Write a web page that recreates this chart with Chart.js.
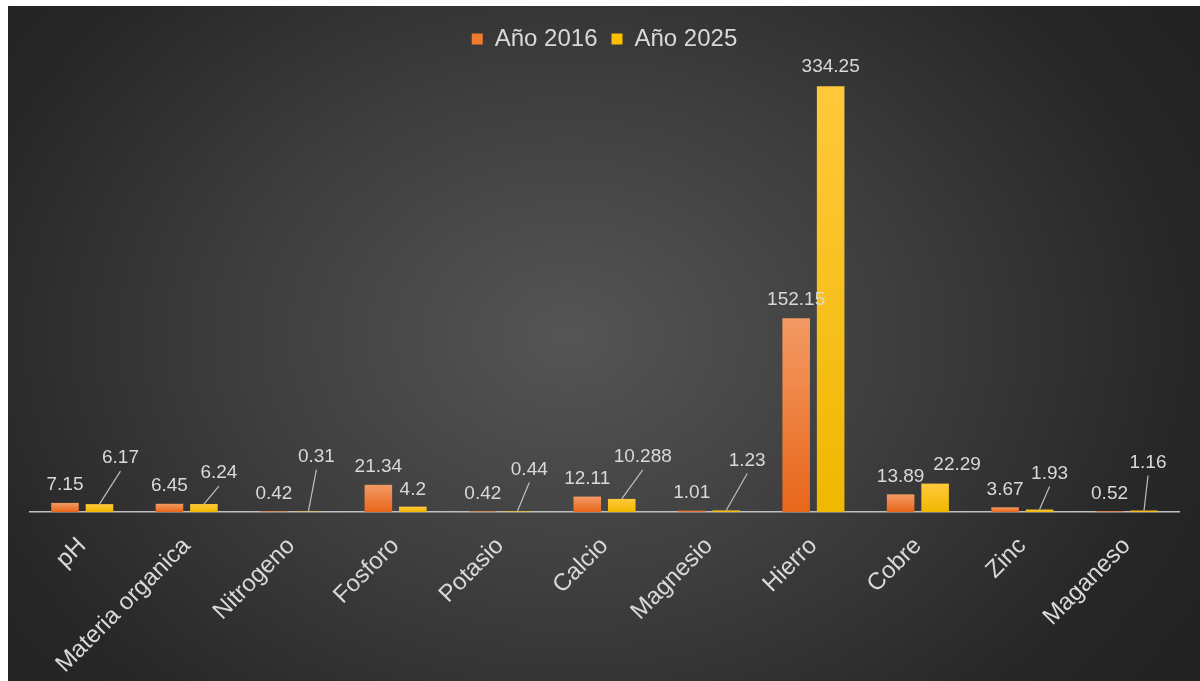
<!DOCTYPE html>
<html>
<head>
<meta charset="utf-8">
<script src="https://cdn.jsdelivr.net/npm/chart.js@4.4.1/dist/chart.umd.min.js"></script>
<style>
  html, body { margin: 0; padding: 0; background: #ffffff; width: 1200px; height: 681px; overflow: hidden; }
  #bg { position: absolute; left: 8px; top: 6px; width: 1192px; height: 675px;
        background: radial-gradient(ellipse 720px 560px at 560px 330px, #555555 0%, #3e3e3e 45%, #272727 85%, #232323 100%); }
  #wrap { position: absolute; left: 0; top: 0; width: 1200px; height: 681px; }
</style>
</head>
<body>
<div id="bg"></div>
<div id="wrap"><canvas id="c" width="1200" height="681"></canvas></div>
<script>
const categories = ["pH", "Materia organica", "Nitrogeno", "Fosforo", "Potasio", "Calcio", "Magnesio", "Hierro", "Cobre", "Zinc", "Maganeso"];
const seriesNames = ["Año 2016", "Año 2025"];
const values2016 = [7.15, 6.45, 0.42, 21.34, 0.42, 12.11, 1.01, 152.15, 13.89, 3.67, 0.52];
const values2025 = [6.17, 6.24, 0.31, 4.2, 0.44, 10.288, 1.23, 334.25, 22.29, 1.93, 1.16];
const labels2016 = ["7.15", "6.45", "0.42", "21.34", "0.42", "12.11", "1.01", "152.15", "13.89", "3.67", "0.52"];
const labels2025 = ["6.17", "6.24", "0.31", "4.2", "0.44", "10.288", "1.23", "334.25", "22.29", "1.93", "1.16"];

// label placement (offset from bar top centre to label centre) and whether a leader line is drawn
const labelOffsets2025 = [[21,-46,1],[15,-31,1],[8,-55,1],[0,-17,0],[12,-42,1],[21,-42,1],[21,-50,1],[0,-19,0],[22,-19,0],[10,-36,1],[4,-48,1]];

function barGradient(top, bottom) {
  return function(ctx) {
    const chart = ctx.chart;
    if (!chart.chartArea || ctx.type !== 'data') return bottom;
    const ys = chart.scales.y;
    const t = ys.getPixelForValue(ctx.raw);
    const b = ys.getPixelForValue(0);
    if (!isFinite(t) || !isFinite(b) || Math.abs(b - t) < 1) return bottom;
    const g = chart.ctx.createLinearGradient(0, t, 0, b);
    g.addColorStop(0, top);
    g.addColorStop(1, bottom);
    return g;
  };
}

const labelPlugin = {
  id: 'valueLabels',
  afterDatasetsDraw(chart) {
    const ctx = chart.ctx;
    ctx.save();
    ctx.font = '19px "Liberation Sans", Arial, sans-serif';
    ctx.fillStyle = '#d9d9d9';
    ctx.textAlign = 'center';
    ctx.textBaseline = 'middle';
    const texts = [labels2016, labels2025];
    chart.data.datasets.forEach((ds, di) => {
      const meta = chart.getDatasetMeta(di);
      meta.data.forEach((bar, i) => {
        let dx = 0, dy = -18, line = 0;
        if (di === 1) { [dx, dy, line] = labelOffsets2025[i]; }
        const lx = bar.x + dx, ly = bar.y + dy;
        if (line) {
          ctx.strokeStyle = '#bfbfbf';
          ctx.lineWidth = 1.2;
          ctx.beginPath();
          ctx.moveTo(bar.x, bar.y);
          ctx.lineTo(lx, ly + 13);
          ctx.stroke();
        }
        ctx.fillText(texts[di][i], lx, ly);
      });
    });
    ctx.restore();
  }
};

new Chart(document.getElementById('c'), {
  type: 'bar',
  data: {
    labels: categories,
    datasets: [
      { label: seriesNames[0], data: values2016, backgroundColor: barGradient('#f39a64', '#e8661a'),
        categoryPercentage: 0.66, barPercentage: 0.8 },
      { label: seriesNames[1], data: values2025, backgroundColor: barGradient('#ffc93c', '#f0b800'),
        categoryPercentage: 0.66, barPercentage: 0.8 }
    ]
  },
  options: {
    responsive: false,
    animation: false,
    devicePixelRatio: 1,
    layout: { padding: { left: 30, right: 21, top: 13, bottom: 0 } },
    plugins: {
      tooltip: { enabled: false },
      legend: {
        position: 'top',
        labels: {
          color: '#d9d9d9',
          font: { size: 24, family: '"Liberation Sans", Arial, sans-serif' },
          boxWidth: 11, boxHeight: 11, padding: 14,
          generateLabels(chart) {
            return chart.data.datasets.map((ds, i) => ({
              text: ds.label, fillStyle: i === 0 ? '#f07a2e' : '#ffc000', strokeStyle: 'rgba(0,0,0,0)',
              lineWidth: 0, datasetIndex: i, fontColor: '#d9d9d9', hidden: false
            }));
          }
        }
      }
    },
    scales: {
      x: {
        grid: { display: false },
        border: { color: '#bfbfbf', width: 1.5 },
        ticks: {
          color: '#d9d9d9',
          font: { size: 24, family: '"Liberation Sans", Arial, sans-serif' },
          minRotation: 45, maxRotation: 45, padding: 12, autoSkip: false
        },
        afterFit(scale) { scale.height = 169; }
      },
      y: {
        display: false,
        min: 0,
        max: 354
      }
    }
  },
  plugins: [labelPlugin]
});
</script>
</body>
</html>
